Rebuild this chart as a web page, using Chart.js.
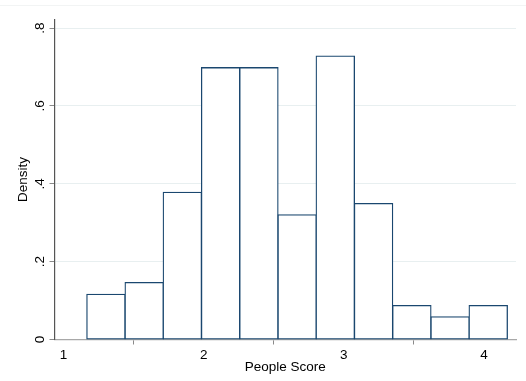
<!DOCTYPE html>
<html>
<head>
<meta charset="utf-8">
<script src="https://cdn.jsdelivr.net/npm/chart.js@4.4.1/dist/chart.umd.min.js"></script>
<style>
  html, body { margin: 0; padding: 0; background: #ffffff; }
  #wrap { position: relative; width: 526px; height: 381px; }
  #topline { position: absolute; left: 0; top: 5px; width: 526px; height: 1px; background: #f2f4f4; }
  canvas { position: absolute; left: 0; top: 0; }
</style>
</head>
<body>
<div id="wrap">
  <div id="topline"></div>
  <canvas id="c" width="526" height="381"></canvas>
</div>
<script>
// Histogram of People Score (bin centres and densities)
const binCenters = [1.303, 1.576, 1.848, 2.121, 2.394, 2.667, 2.939, 3.212, 3.485, 3.758, 4.030];
const densities  = [0.116, 0.146, 0.378, 0.698, 0.698, 0.320, 0.728, 0.349, 0.087, 0.058, 0.087];
const xTicks = [1, 2, 3, 4];
const yTicks = [0, 0.2, 0.4, 0.6, 0.8];
const yTickLabels = ["0", ".2", ".4", ".6", ".8"];

const FONT = "'Liberation Sans', Arial, sans-serif";
const NAVY = '#1a476f';
const BW = 1.3;

const points = binCenters.map((x, i) => ({ x: x, y: densities[i] }));

new Chart(document.getElementById('c'), {
  type: 'bar',
  data: {
    datasets: [{
      data: points,
      backgroundColor: '#ffffff',
      borderColor: NAVY,
      borderSkipped: false,
      borderWidth: BW,
      inflateAmount: BW / 2,
      barPercentage: 1.0,
      categoryPercentage: 1.0
    }]
  },
  options: {
    responsive: false,
    animation: false,
    devicePixelRatio: 1,
    layout: { padding: { left: 0, right: 10, top: 19.5, bottom: 0 } },
    plugins: { legend: { display: false }, tooltip: { enabled: false } },
    scales: {
      x: {
        type: 'linear',
        min: 0.936,
        max: 4.228,
        offset: false,
        afterBuildTicks: (s) => { s.ticks = xTicks.map(v => ({ value: v })); },
        afterFit: (s) => { s.height = 41.5; },
        ticks: {
          color: '#000',
          font: { family: FONT, size: 13.5 },
          padding: 3,
          maxRotation: 0,
          autoSkip: false,
          callback: (v) => String(v)
        },
        grid: {
          drawOnChartArea: false,
          drawTicks: true,
          tickLength: 5,
          tickColor: '#8a8a8a',
          tickWidth: 1
        },
        border: { display: true, color: '#a8a8a8', width: 1.3 },
        title: {
          display: true,
          text: 'People Score',
          color: '#000',
          font: { family: FONT, size: 13.5 },
          padding: { top: 0, bottom: 6 }
        }
      },
      y: {
        type: 'linear',
        min: 0,
        max: 0.822,
        afterBuildTicks: (s) => { s.ticks = yTicks.map(v => ({ value: v })); },
        afterFit: (s) => { s.width = 54.5; },
        ticks: {
          color: '#000',
          font: { family: FONT, size: 13.5 },
          padding: 3.5,
          minRotation: 90,
          maxRotation: 90,
          crossAlign: 'center',
          autoSkip: false,
          callback: (v) => { const i = yTicks.indexOf(v); return i >= 0 ? yTickLabels[i] : ''; }
        },
        grid: {
          drawOnChartArea: true,
          color: (ctx) => (ctx.tick && ctx.tick.value === 0) ? 'rgba(0,0,0,0)' : '#e8eff0',
          lineWidth: 1,
          drawTicks: true,
          tickLength: 5,
          tickColor: '#8a8a8a',
          tickWidth: 1
        },
        border: { display: true, color: '#555555', width: 1.2 },
        title: {
          display: true,
          text: 'Density',
          color: '#000',
          font: { family: FONT, size: 13.5 },
          padding: { top: 15, bottom: 0 }
        }
      }
    }
  }
});
</script>
</body>
</html>
